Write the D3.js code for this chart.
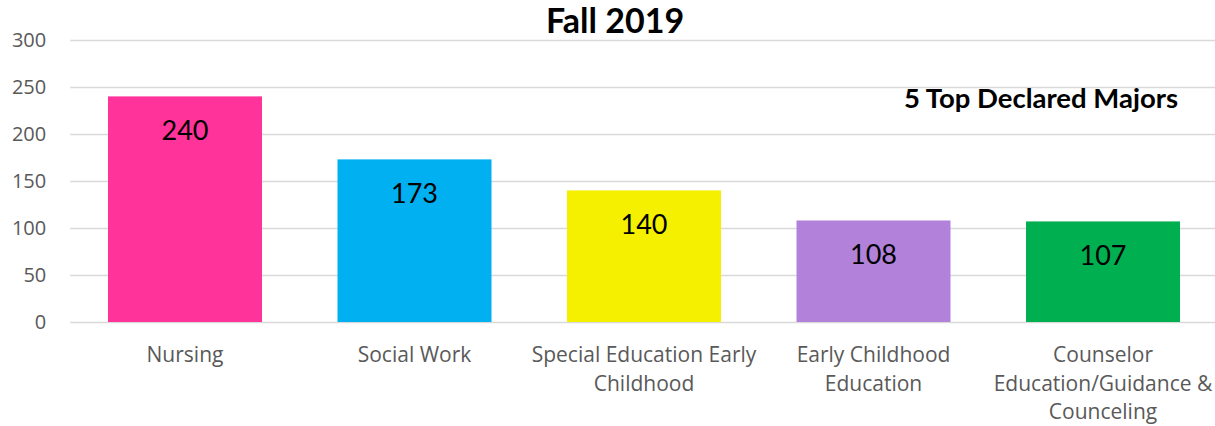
<!DOCTYPE html>
<head>
  <meta charset="utf-8">
  <script src="https://d3js.org/d3.v7.min.js"></script>
  <style>
    body { margin: 0; background: #fff; }
    svg { display: block; }
    .tick text { font-family: "Open Sans", sans-serif; fill: #595959; }
  </style>
</head>
<body>
  <div id="chart"></div>
  <script>

  var majors = [
    ["Nursing"],
    ["Social Work"],
    ["Special Education Early", "Childhood"],
    ["Early Childhood", "Education"],
    ["Counselor", "Education/Guidance &", "Counceling"]
  ];
  var students = [240, 173, 140, 108, 107];
  var barColors = ["#FF3399", "#00B0F0", "#F5F000", "#B282DB", "#00B050"];
  var yTicks = [0, 50, 100, 150, 200, 250, 300];

  var width = 1215, height = 426
    , plotLeft = 70.25, plotRight = 1217.75
    , plotTop = 40, plotBottom = 322

  var svg = d3.select("#chart").append("svg")
      .attr("width", width)
      .attr("height", height)

  var x = d3.scaleBand()
      .domain(d3.range(students.length))
      .range([plotLeft, plotRight])
      .paddingInner(0.329)
      .paddingOuter(0.1645)

  var y = d3.scaleLinear()
      .domain([0, 300])
      .range([plotBottom, plotTop])

  // gridlines + tick labels
  var yAxis = svg.append("g")
      .attr("transform", "translate(" + plotLeft + ",0)")
      .call(d3.axisLeft(y).tickValues(yTicks).tickSize(-(width - plotLeft)).tickPadding(24))
  yAxis.select(".domain").remove()
  yAxis.selectAll(".tick line").attr("stroke", "#d9d9d9").attr("stroke-width", 1.5)
  yAxis.selectAll(".tick text").style("font-size", "20px")

  svg.selectAll(".bar")
      .data(students)
    .enter().append("rect")
      .attr("class", "bar")
      .attr("x", function(d, i) { return x(i) })
      .attr("width", x.bandwidth())
      .attr("y", function(d) { return y(d) })
      .attr("height", function(d) { return y(0) - y(d) })
      .attr("fill", function(d, i) { return barColors[i] })

  svg.selectAll(".value")
      .data(students)
    .enter().append("text")
      .attr("class", "value")
      .attr("x", function(d, i) { return x(i) + x.bandwidth() / 2 })
      .attr("y", function(d) { return y(d) + 44 })
      .attr("text-anchor", "middle")
      .style("font-family", "Lato, sans-serif")
      .style("font-size", "27px")
      .style("fill", "#000")
      .text(function(d) { return d })

  var cat = svg.selectAll(".cat")
      .data(majors)
    .enter().append("text")
      .attr("class", "cat")
      .attr("text-anchor", "middle")
      .style("font-family", "'Open Sans', sans-serif")
      .style("font-size", "21px")
      .style("fill", "#595959")

  cat.selectAll("tspan")
      .data(function(d, i) { return d.map(function(t) { return {t: t, i: i} }) })
    .enter().append("tspan")
      .attr("x", function(d) { return x(d.i) + x.bandwidth() / 2 })
      .attr("y", function(d, j) { return 362 + j * 28.5 })
      .text(function(d) { return d.t })

  svg.append("text")
      .attr("x", 615)
      .attr("y", 33)
      .attr("text-anchor", "middle")
      .style("font-family", "Lato, sans-serif")
      .style("font-weight", "bold")
      .style("font-size", "34px")
      .text("Fall 2019")

  svg.append("text")
      .attr("x", 1178)
      .attr("y", 108)
      .attr("text-anchor", "end")
      .style("font-family", "Lato, sans-serif")
      .style("font-weight", "bold")
      .style("font-size", "27.5px")
      .text("5 Top Declared Majors")

  </script>
</body>
